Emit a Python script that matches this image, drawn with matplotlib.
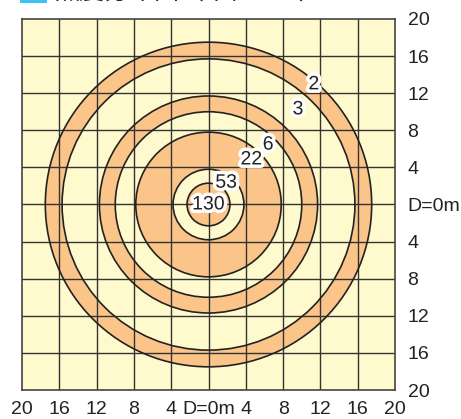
import matplotlib
matplotlib.use('Agg')
import matplotlib.pyplot as plt
import matplotlib.patheffects as pe
from matplotlib.patches import Circle, Rectangle

plt.rcParams['font.family'] = ['Liberation Sans', 'Noto Sans CJK JP', 'DejaVu Sans']

# illuminance zones: outer radius (m) and fill, from outside in
zone_radii = [17.5, 15.7, 11.7, 10.0, 7.8, 3.8, 2.3]
zone_fill = ['#fbc488', '#fffacd', '#fbc488', '#fffacd', '#fbc488', '#fffacd', '#fbc488']

# lux labels and where they sit (m)
lux_labels = ['2', '3', '6', '22', '53', '130']
lux_x = [11.3, 9.6, 6.4, 4.6, 1.9, 0.0]
lux_y = [12.9, 10.2, 6.4, 4.8, 2.3, -0.05]

ticks = [-20, -16, -12, -8, -4, 0, 4, 8, 12, 16, 20]
tick_labels = ['20', '16', '12', '8', '4', 'D=0m', '4', '8', '12', '16', '20']

W, H = 461, 419
fig = plt.figure(figsize=(W / 100, H / 100), dpi=100)
ax = fig.add_axes([22 / W, 29 / H, 373 / W, 371 / H])
ax.set_facecolor('#fffacd')
ax.set_xlim(-20, 20)
ax.set_ylim(-20, 20)

for r, c in zip(zone_radii, zone_fill):
    ax.add_patch(Circle((0, 0), r, facecolor=c, edgecolor='none', zorder=1))

for t in ticks[1:-1]:
    ax.axvline(t, color='#333333', lw=1.0, zorder=2)
    ax.axhline(t, color='#333333', lw=1.0, zorder=2)

for r in zone_radii:
    ax.add_patch(Circle((0, 0), r, facecolor='none', edgecolor='#222222', lw=1.2, zorder=3))

for s, x, y in zip(lux_labels, lux_x, lux_y):
    ax.text(x, y, s, ha='center', va='center', fontsize=14, color='#222222', zorder=5,
            path_effects=[pe.withStroke(linewidth=5, foreground='white')])

for sp in ax.spines.values():
    sp.set_color('#444444')
    sp.set_linewidth(1.2)
    sp.set_zorder(4)

ax.set_xticks(ticks)
ax.set_xticklabels(tick_labels)
ax.set_yticks(ticks)
ax.set_yticklabels(tick_labels)
ax.yaxis.tick_right()
ax.tick_params(length=0, labelsize=14, colors='#222222')
ax.tick_params(axis='x', pad=8)
ax.tick_params(axis='y', pad=9)

# title, cut off at the top edge like the source
fig.patches.append(Rectangle((20 / W, 1 - 3 / H), 27 / W, 20 / H, transform=fig.transFigure,
                             facecolor='#3cc3ef', edgecolor='none', figure=fig))
fig.text(55 / W, 1 + 8 / H, '照度分布図（単位：lx）', fontsize=18, va='center', ha='left',
         color='#222222', family=['Noto Sans CJK JP'])

fig.savefig('out.png', dpi=100)
